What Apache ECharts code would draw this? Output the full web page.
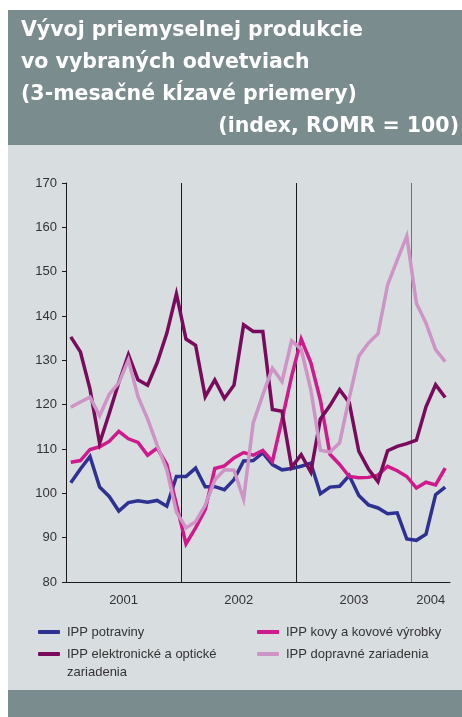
<!DOCTYPE html>
<html>
<head>
<meta charset="utf-8">
<script src="https://cdn.jsdelivr.net/npm/echarts@6/dist/echarts.min.js"></script>
<style>
html,body{margin:0;padding:0;background:#fff;}
#chart{width:462px;height:717px;}
</style>
</head>
<body>
<div id="chart"></div>
<script>
// ---- data ----
var months = [
  '2001-01','2001-02','2001-03','2001-04','2001-05','2001-06','2001-07','2001-08','2001-09','2001-10','2001-11','2001-12',
  '2002-01','2002-02','2002-03','2002-04','2002-05','2002-06','2002-07','2002-08','2002-09','2002-10','2002-11','2002-12',
  '2003-01','2003-02','2003-03','2003-04','2003-05','2003-06','2003-07','2003-08','2003-09','2003-10','2003-11','2003-12',
  '2004-01','2004-02','2004-03','2004-04'
];
var seriesNames = [
  'IPP potraviny',
  'IPP kovy a kovové výrobky',
  'IPP elektronické a optické zariadenia',
  'IPP dopravné zariadenia'
];
var potraviny = [
  102.4,105.5,108.3,101.4,99.3,96.0,97.9,98.3,98.0,98.4,97.1,103.8,
  103.8,105.7,101.5,101.5,100.8,103.1,107.3,107.4,109.1,106.5,105.3,105.6,
  106.1,106.8,99.9,101.4,101.6,104.0,99.5,97.4,96.7,95.4,95.6,89.7,
  89.4,90.8,99.7,101.4
];
var kovy = [
  107.0,107.4,109.9,110.5,111.7,114.0,112.3,111.5,108.6,110.2,106.5,97.5,
  88.6,92.2,96.3,105.6,106.2,108.0,109.2,108.6,109.7,107.2,116.6,126.4,
  134.8,129.5,121.0,108.8,106.5,103.8,103.5,103.6,104.1,106.1,105.1,103.8,
  101.2,102.5,101.9,105.7
];
var elektronicke = [
  135.3,131.9,123.5,111.3,118.0,125.0,131.3,125.6,124.4,129.5,136.1,145.0,
  134.8,133.4,121.8,125.6,121.4,124.4,138.0,136.5,136.5,118.9,118.5,105.9,
  108.7,104.8,116.8,119.8,123.4,120.5,109.5,105.5,102.6,109.6,110.6,111.2,
  112.0,119.5,124.5,121.6
];
var dopravne = [
  119.4,120.6,121.7,117.5,122.3,124.9,130.1,121.8,116.8,110.8,105.3,95.8,
  92.2,93.6,97.3,103.0,105.3,105.2,98.7,115.9,122.2,128.2,125.2,134.4,
  132.5,123.4,109.7,109.3,111.4,121.5,130.9,133.9,136.0,147.0,152.6,158.0,
  142.9,138.4,132.4,129.7
];
var yearLabels = ['2001','2002','2003','2004'];
var titleLines = ['Vývoj priemyselnej produkcie','vo vybraných odvetviach','(3-mesačné kĺzavé priemery)'];
var unitLine = '(index, ROMR = 100)';

// year label positions derived from the month categories (middle of each year's months)
var yearPos = {};
yearLabels.forEach(function (y) {
  var idx = [];
  months.forEach(function (m, i) { if (m.indexOf(y) === 0) idx.push(i); });
  var mid = (idx[0] + idx[idx.length - 1] + 1) / 2;
  yearPos[mid] = y;
});

var colors = ['#2e3192', '#d0198b', '#7a0b5c', '#cd94c5'];
var FONT = 'Liberation Sans';
var chart = echarts.init(document.getElementById('chart'), null, {renderer: 'canvas'});

function legendItem(name, left, top) {
  return {
    data: [{name: name}],
    left: left, top: top, orient: 'vertical', padding: 0,
    itemWidth: 22, itemHeight: 4, icon: 'roundRect', selectedMode: false,
    textStyle: {fontSize: 13, color: '#333', fontFamily: FONT, lineHeight: 18, padding: [0, 0, 0, 2]},
    formatter: function (n) { return n === seriesNames[2] ? ' \nIPP elektronické a optické\nzariadenia' : n; }
  };
}

var option = {
  backgroundColor: '#ffffff',
  animation: false,
  graphic: [
    {type: 'rect', shape: {x: 8, y: 10, width: 454, height: 135}, style: {fill: '#7b8c8e'}, z: -10},
    {type: 'rect', shape: {x: 8, y: 145, width: 454, height: 545}, style: {fill: '#d8dde0'}, z: -10},
    {type: 'rect', shape: {x: 8, y: 690, width: 454, height: 27}, style: {fill: '#7b8c8e'}, z: -10}
  ],
  title: [
    {text: titleLines.join('\n'), left: 21, top: 15, padding: 0,
     textStyle: {fontSize: 20.5, fontWeight: 'bold', color: '#ffffff', lineHeight: 32, fontFamily: 'DejaVu Sans'}},
    {text: unitLine, right: 3, top: 111, padding: 0,
     textStyle: {fontSize: 20.5, fontWeight: 'bold', color: '#ffffff', lineHeight: 32, fontFamily: 'DejaVu Sans'}}
  ],
  legend: [
    legendItem(seriesNames[0], 38, 623),
    legendItem(seriesNames[1], 257, 623),
    legendItem(seriesNames[2], 38, 627),
    legendItem(seriesNames[3], 257, 645)
  ],
  grid: {left: 66, right: 12, top: 183, bottom: 135, containLabel: false},
  xAxis: [
    {
      type: 'category', data: months, boundaryGap: true, position: 'bottom',
      axisLine: {show: true, lineStyle: {color: '#1a1a1a', width: 1}},
      axisTick: {show: false},
      axisLabel: {show: false},
      splitLine: {
        show: true, showMaxLine: false,
        interval: function (index) { return index > 0 && index % 12 === 0; },
        lineStyle: {color: ['#1a1a1a', '#1a1a1a', '#707070'], width: 1}
      }
    },
    {
      type: 'value', min: 0, max: months.length, interval: 2, position: 'bottom',
      axisLine: {show: false}, axisTick: {show: false}, splitLine: {show: false},
      axisLabel: {
        show: true, margin: 12, fontSize: 13, color: '#333', fontFamily: FONT,
        formatter: function (v) { return yearPos[v] || ''; }
      }
    }
  ],
  yAxis: {
    type: 'value', min: 80, max: 170, interval: 10,
    axisLine: {show: true, lineStyle: {color: '#1a1a1a', width: 1}},
    axisTick: {show: true, length: 4, lineStyle: {color: '#1a1a1a'}},
    splitLine: {show: false},
    axisLabel: {fontSize: 13, color: '#333', margin: 9, fontFamily: FONT}
  },
  series: [
    {name: seriesNames[0], data: potraviny},
    {name: seriesNames[1], data: kovy},
    {name: seriesNames[2], data: elektronicke},
    {name: seriesNames[3], data: dopravne}
  ].map(function (s, i) {
    return {
      name: s.name, type: 'line', data: s.data, xAxisIndex: 0, yAxisIndex: 0,
      symbol: 'none', smooth: false, color: colors[i],
      lineStyle: {width: 3.5, color: colors[i], join: 'miter'}
    };
  })
};
chart.setOption(option);
</script>
</body>
</html>
